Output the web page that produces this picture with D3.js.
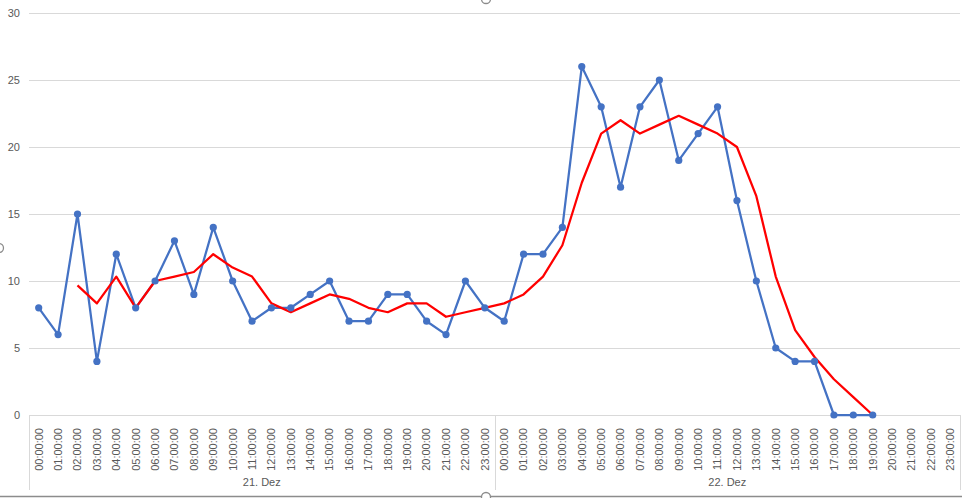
<!DOCTYPE html>
<html><head><meta charset="utf-8">
<script src="https://cdn.jsdelivr.net/npm/d3@7"></script>
<style>html,body{margin:0;padding:0;background:#fff;overflow:hidden}svg{display:block}</style>
</head><body>
<script>
const days = ["21. Dez", "22. Dez"];
const hours = ["00:00:00","01:00:00","02:00:00","03:00:00","04:00:00","05:00:00","06:00:00","07:00:00","08:00:00","09:00:00","10:00:00","11:00:00","12:00:00","13:00:00","14:00:00","15:00:00","16:00:00","17:00:00","18:00:00","19:00:00","20:00:00","21:00:00","22:00:00","23:00:00"];
const counts = [8,6,15,4,12,8,10,13,9,14,10,7,8,8,9,10,7,7,9,9,7,6,10,8,
                7,12,12,14,26,23,17,23,25,19,21,23,16,10,5,4,4,0,0,0,null,null,null,null];
const trend = [null,null,9.67,8.33,10.33,8,10,10.33,10.67,12,11,10.33,8.33,7.67,8.33,9,8.67,8,7.67,8.33,8.33,7.33,7.67,8,
               8.33,9,10.33,12.67,17.33,21,22,21,21.67,22.33,21.67,21,20,16.33,10.33,6.33,4.33,2.67,1.33,0,null,null,null,null];
const yTicks = [0,5,10,15,20,25,30];

(function(){
const W = 962, H = 498;
const mL = 29, mR = 960, mT = 13, mB = 415;
const keys = [];
days.forEach((d,di)=>hours.forEach((h,hi)=>keys.push(di*24+hi)));

const svg = d3.select("body").append("svg").attr("width", W).attr("height", H);
const x = d3.scaleBand().domain(keys).range([mL, mR]);
const y = d3.scaleLinear().domain([0,30]).range([mB, mT]);
const cx = k => x(k) + x.bandwidth()/2;
const font = "'Liberation Sans', Arial, sans-serif";

// gridlines
svg.append("g").selectAll("line").data(yTicks.filter(t=>t>0)).join("line")
  .attr("x1", mL).attr("x2", mR).attr("y1", d=>Math.round(y(d))+0.5).attr("y2", d=>Math.round(y(d))+0.5)
  .attr("stroke", "#d9d9d9").attr("stroke-width", 1);

// y axis labels
const yAxis = d3.axisLeft(y).tickValues(yTicks).tickSize(0).tickPadding(9);
const ya = svg.append("g").attr("transform", `translate(${mL},0)`).call(yAxis);
ya.select(".domain").remove();
ya.selectAll("text").attr("fill","#595959").style("font-family", font).style("font-size","11px");

// x axis
const xAxis = d3.axisBottom(x).tickSize(0).tickPadding(0).tickFormat(k => hours[k % 24]);
const xa = svg.append("g").attr("transform", `translate(0,${mB})`).call(xAxis);
xa.select(".domain").attr("stroke","#d9d9d9").attr("d", `M${mL},0.5H${mR}`);
xa.selectAll("text")
  .attr("fill","#595959").style("font-family", font).style("font-size","11px")
  .attr("transform","rotate(-90)").attr("text-anchor","end")
  .attr("x", -13).attr("y", 0).attr("dy", "0.35em");

// group separators
const seps = [x(keys[0]), x(keys[24]), mR];
svg.append("g").selectAll("line").data(seps).join("line")
  .attr("x1", d=>Math.round(d)+0.5).attr("x2", d=>Math.round(d)+0.5)
  .attr("y1", mB).attr("y2", 490)
  .attr("stroke","#d9d9d9").attr("stroke-width",1);

svg.append("g").selectAll("text").data(days).join("text")
  .attr("x", (d,i)=> (x(keys[i*24]) + (i===0 ? x(keys[24]) : mR))/2)
  .attr("y", 486)
  .attr("text-anchor","middle").attr("fill","#595959")
  .style("font-family", font).style("font-size","11px").text(d=>d);

// lines
const lineGen = d3.line().defined(d => d.v !== null).x(d => cx(d.k)).y(d => y(d.v));
const countData = keys.map((k,i)=>({k, v: counts[i]}));
const trendData = keys.map((k,i)=>({k, v: trend[i]}));

svg.append("path").datum(countData).attr("d", lineGen)
  .attr("fill","none").attr("stroke","#4472C4").attr("stroke-width",2.25).attr("stroke-linejoin","round");
svg.append("path").datum(trendData).attr("d", lineGen)
  .attr("fill","none").attr("stroke","#FF0000").attr("stroke-width",2.25).attr("stroke-linejoin","round");
svg.append("g").selectAll("circle").data(countData.filter(d=>d.v!==null)).join("circle")
  .attr("cx", d=>cx(d.k)).attr("cy", d=>y(d.v)).attr("r", 3.6).attr("fill","#4472C4");

// outer border + selection handles
svg.append("line").attr("x1",0).attr("x2",W).attr("y1",496.5).attr("y2",496.5)
  .attr("stroke","#8c8c8c").attr("stroke-width",1.5);
const handles = [[486,-1],[-1,248],[486,497]];
svg.append("g").selectAll("circle").data(handles).join("circle")
  .attr("cx",d=>d[0]).attr("cy",d=>d[1]).attr("r",4.5)
  .attr("fill","#fff").attr("stroke","#8c8c8c").attr("stroke-width",1.3);
})();
</script>
</body></html>
